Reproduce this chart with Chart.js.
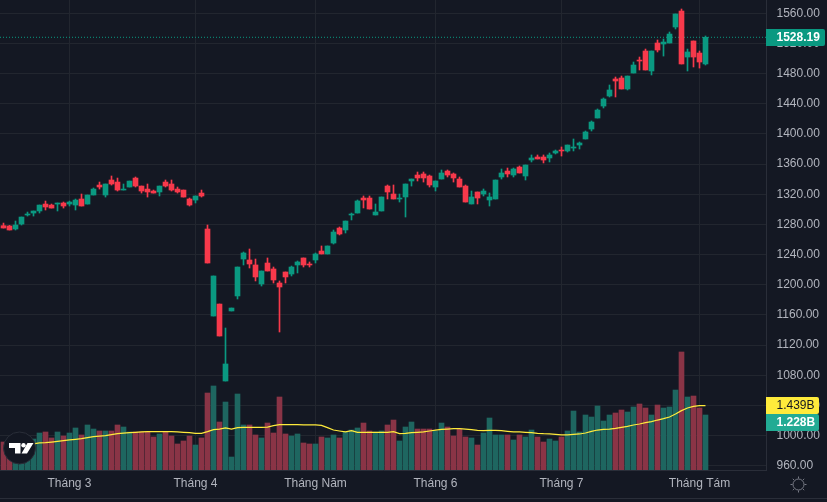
<!DOCTYPE html>
<html><head><meta charset="utf-8">
<style>
html,body{margin:0;padding:0;background:#141823;width:827px;height:502px;overflow:hidden}
#wrap{position:relative;width:827px;height:502px}
canvas{display:block}
#rule{position:absolute;left:0;top:498px;width:827px;height:1px;background:#2a2e39}
svg{position:absolute;left:0;top:0}
</style>
<script src="https://cdn.jsdelivr.net/npm/chart.js@4"></script>
</head><body>
<div id="wrap"><canvas id="c" width="827" height="502"></canvas><div id="rule"></div>
<svg width="827" height="502" viewBox="0 0 827 502">
<circle cx="19.5" cy="448" r="16" fill="#131722" stroke="#2a2e39" stroke-width="1"/>
<path d="M9 443H20.5V453.5H15V448H9Z M27.5 443H33.5L27 453.5H21.5Z" fill="#fff"/>
<circle cx="23.5" cy="445.3" r="2.2" fill="#fff"/>
<g fill="none" stroke="#787b86" stroke-width="1">
<circle cx="798.5" cy="484.5" r="5.5"/>
<path d="M798.5 476.5v2M798.5 490.5v2M790.5 484.5h2M804.5 484.5h2M792.8 478.8l1.4 1.4M802.8 488.8l1.4 1.4M792.8 490.2l1.4-1.4M802.8 480.2l1.4-1.4"/>
</g>
</svg></div>
<script>
const opens=[1278.3,1277.9,1273.9,1280.5,1292.5,1295.1,1297.8,1307.0,1305.7,1307.0,1308.4,1307.0,1305.7,1313.7,1307.0,1319.0,1332.2,1319.0,1338.9,1336.2,1325.6,1329.6,1341.5,1330.9,1326.9,1324.3,1323.0,1336.2,1333.6,1326.9,1325.6,1313.7,1312.3,1321.6,1273.9,1158.5,1174.4,1072.3,1165.2,1185.1,1234.1,1232.8,1226.2,1201.0,1228.8,1220.9,1202.3,1216.9,1214.2,1226.2,1235.5,1227.5,1232.8,1244.7,1240.8,1255.3,1275.2,1272.6,1292.5,1295.1,1315.0,1315.0,1292.5,1297.8,1330.9,1320.3,1313.7,1316.4,1337.6,1345.5,1346.9,1344.2,1329.6,1340.2,1350.8,1346.9,1340.2,1330.9,1307.1,1323.0,1320.3,1312.4,1313.7,1342.9,1350.8,1345.5,1356.1,1344.2,1365.4,1369.4,1369.4,1368.1,1374.7,1378.7,1377.4,1381.3,1385.3,1393.3,1406.5,1421.1,1437.0,1450.3,1472.9,1474.2,1459.6,1480.8,1498.0,1510.0,1483.5,1520.6,1519.3,1520.6,1541.8,1563.0,1502.0,1523.3,1507.3,1492.8];
const highs=[1281.8,1278.7,1284.5,1289.8,1296.4,1297.8,1305.7,1311.0,1307.0,1308.4,1309.7,1311.0,1313.7,1320.3,1319.0,1328.3,1336.2,1333.6,1344.2,1341.5,1333.6,1337.5,1342.9,1330.9,1333.6,1325.6,1330.9,1338.9,1338.9,1329.6,1325.6,1315.0,1317.7,1325.6,1279.2,1211.6,1174.4,1142.6,1169.1,1223.5,1243.4,1247.4,1234.1,1218.2,1235.5,1223.5,1205.0,1216.9,1224.8,1231.5,1235.5,1230.2,1242.1,1251.4,1251.4,1272.6,1276.6,1284.5,1295.1,1312.4,1317.7,1317.7,1307.1,1316.4,1332.3,1332.3,1320.3,1333.6,1340.2,1349.5,1349.5,1345.5,1337.6,1352.2,1352.2,1348.2,1342.9,1332.3,1324.3,1323.0,1327.0,1321.7,1338.9,1353.5,1354.8,1354.8,1357.5,1358.8,1372.1,1372.1,1372.1,1374.7,1378.7,1382.7,1385.3,1393.3,1389.3,1403.9,1417.2,1433.1,1447.7,1464.9,1475.5,1476.8,1476.8,1495.4,1502.0,1512.6,1510.0,1524.6,1525.9,1535.2,1559.1,1565.7,1512.6,1523.3,1510.0,1529.9];
const lows=[1275.2,1272.6,1272.6,1279.2,1291.1,1291.1,1295.1,1299.1,1301.7,1297.8,1301.7,1304.4,1299.1,1304.4,1307.0,1319.0,1326.9,1316.3,1332.2,1324.3,1325.6,1329.6,1329.6,1321.6,1316.3,1321.6,1317.7,1329.6,1324.3,1321.6,1316.3,1304.4,1308.4,1316.3,1228.8,1158.5,1132.0,1072.3,1165.2,1181.1,1226.2,1222.2,1205.0,1198.3,1218.2,1202.3,1137.3,1202.3,1211.6,1215.6,1223.5,1223.5,1228.8,1240.8,1240.8,1254.0,1266.0,1268.6,1285.9,1295.1,1301.8,1300.4,1292.5,1297.8,1313.7,1313.7,1309.7,1289.8,1330.9,1337.6,1336.2,1329.6,1324.3,1340.2,1342.9,1336.2,1329.6,1309.7,1307.1,1307.1,1317.7,1304.4,1313.7,1340.2,1342.9,1342.9,1348.2,1338.9,1362.8,1366.8,1361.5,1362.8,1373.4,1370.7,1376.0,1377.4,1380.0,1393.3,1403.9,1421.1,1434.4,1449.0,1449.0,1459.6,1458.3,1480.8,1484.8,1484.8,1478.2,1508.7,1503.3,1520.6,1539.2,1492.8,1483.5,1488.8,1487.4,1491.4];
const closes=[1275.2,1272.6,1279.2,1289.8,1293.8,1297.8,1305.7,1303.1,1301.7,1308.4,1304.4,1309.7,1312.3,1304.4,1319.0,1326.9,1329.6,1333.6,1333.6,1325.6,1326.9,1337.5,1330.9,1324.3,1323.0,1321.6,1330.9,1330.9,1325.6,1323.0,1316.3,1305.7,1317.7,1317.7,1228.8,1211.6,1132.0,1094.9,1169.1,1223.5,1242.1,1227.5,1210.3,1218.2,1218.2,1206.3,1197.0,1210.3,1223.5,1230.2,1226.2,1226.2,1240.8,1240.8,1251.4,1269.9,1267.3,1284.5,1293.8,1311.1,1312.4,1300.4,1296.5,1316.4,1323.0,1313.7,1315.0,1333.6,1340.2,1341.6,1341.6,1332.3,1337.6,1348.2,1345.5,1341.6,1329.6,1309.7,1316.4,1315.0,1324.3,1316.4,1338.9,1348.2,1346.9,1353.5,1348.2,1358.8,1368.1,1366.8,1365.4,1372.1,1377.4,1377.4,1385.3,1382.7,1388.0,1402.6,1415.8,1431.7,1446.3,1458.3,1470.2,1459.6,1476.8,1491.4,1496.7,1484.8,1510.0,1511.3,1521.9,1532.5,1559.1,1492.8,1508.7,1502.0,1495.4,1528.19];
const volumes=[0.625,0.595,0.685,0.670,0.633,0.692,0.826,0.849,0.715,0.849,0.759,0.826,0.938,0.782,1.005,0.915,0.871,0.871,0.871,1.005,0.960,0.849,0.849,0.849,0.849,0.737,0.804,0.849,0.759,0.581,0.648,0.759,0.558,0.715,1.719,1.876,1.072,1.518,0.290,1.697,1.005,1.005,0.782,0.715,1.049,0.826,1.630,0.804,0.759,0.804,0.603,0.581,0.581,0.737,0.715,0.782,0.715,0.849,0.893,0.938,1.049,0.871,0.849,0.871,1.005,1.116,0.648,0.960,1.072,0.915,0.915,0.915,0.871,1.049,0.960,0.759,0.915,0.737,0.715,0.558,0.826,1.161,0.782,0.782,0.782,0.670,0.782,0.737,0.893,0.737,0.625,0.692,0.648,0.737,0.871,1.317,0.849,1.228,1.183,1.429,1.094,1.228,1.273,1.340,1.295,1.407,1.474,1.384,1.228,1.451,1.384,1.407,1.786,2.635,1.630,1.652,1.384,1.228];
const volumeMA=[0.506,0.514,0.528,0.543,0.558,0.581,0.603,0.610,0.625,0.640,0.655,0.670,0.685,0.700,0.722,0.744,0.759,0.767,0.789,0.811,0.826,0.834,0.841,0.849,0.856,0.856,0.856,0.856,0.856,0.849,0.841,0.834,0.819,0.819,0.856,0.901,0.915,0.938,0.915,0.945,0.953,0.953,0.953,0.953,0.960,0.990,1.012,1.012,1.012,1.012,1.005,1.005,1.005,0.997,0.945,0.893,0.871,0.849,0.878,0.841,0.841,0.841,0.841,0.841,0.841,0.856,0.811,0.819,0.834,0.841,0.849,0.871,0.893,0.908,0.915,0.923,0.923,0.915,0.901,0.886,0.878,0.886,0.886,0.878,0.863,0.849,0.849,0.841,0.834,0.819,0.811,0.808,0.796,0.782,0.782,0.796,0.804,0.826,0.863,0.893,0.908,0.915,0.930,0.953,0.975,1.005,1.027,1.057,1.079,1.116,1.146,1.183,1.250,1.325,1.384,1.422,1.436,1.439];
const monthTicks=[11,32,52,72,93,116];
const monthLabels=["Tháng 3","Tháng 4","Tháng Năm","Tháng 6","Tháng 7","Tháng Tám"];
const priceTicks=[960,1000,1040,1080,1120,1160,1200,1240,1280,1320,1360,1400,1440,1480,1520,1560];
const lastPrice=1528.19, lastVolumeLabel="1.228B", lastMALabel="1.439B";

const UP='#0a9981', DOWN='#f7394b', UPV='#1e6660', DOWNV='#8a3446';
const FONT='"Liberation Sans", Arial, sans-serif';
const idx=opens.map((_,i)=>i);
const isUp=i=>closes[i]>=opens[i];
const XMIN=-3.5/6, XMAX=(766-3.5)/6;

const tagPlugin={id:'tags',afterDraw(ch){
  const c=ch.ctx, y=ch.scales.y, v=ch.scales.yVol, L=ch.chartArea.right;
  function tag(cy,w,bg,fg,txt,bold){
    c.save();c.fillStyle=bg;c.beginPath();c.roundRect(L,Math.round(cy-8.5),w,17,[0,2,2,0]);c.fill();
    c.fillStyle=fg;c.font=(bold?'bold ':'')+'12px '+FONT;c.textBaseline='middle';c.textAlign='left';
    c.fillText(txt,L+10.5,Math.round(cy-8.5)+9);c.restore();
  }
  const my=v.getPixelForValue(volumeMA[volumeMA.length-1]);
  tag(y.getPixelForValue(lastPrice)+0.2,59,UP,'#fff',lastPrice.toFixed(2),true);
  tag(my,53,'#ffeb3b','#131722',lastMALabel,false);
  tag(my+17,53,'#22ab94','#fff',lastVolumeLabel,true);
}};

new Chart(document.getElementById('c'),{
  type:'bar',
  plugins:[tagPlugin],
  data:{datasets:[
    {type:'bar',label:'Candle bodies',order:1,grouped:false,barThickness:5,yAxisID:'y',
     data:idx.map(i=>({x:i,y:[opens[i],closes[i]]})),
     backgroundColor:idx.map(i=>isUp(i)?UP:DOWN),borderWidth:0},
    {type:'bar',label:'Candle wicks',order:2,grouped:false,barThickness:1,yAxisID:'y',
     data:idx.map(i=>({x:i,y:[lows[i],highs[i]]})),
     backgroundColor:idx.map(i=>isUp(i)?UP:DOWN),borderWidth:0},
    {type:'line',label:'Last price',order:3,yAxisID:'y',
     data:[{x:XMIN,y:lastPrice},{x:XMAX,y:lastPrice}],
     borderColor:UP,borderWidth:1,borderDash:[1,2],pointRadius:0,fill:false},
    {type:'line',label:'Volume MA',order:4,yAxisID:'yVol',
     data:idx.map(i=>({x:i,y:volumeMA[i]})),
     borderColor:'#ffeb3b',borderWidth:1.25,pointRadius:0,tension:0,fill:false},
    {type:'bar',label:'Volume',order:5,grouped:false,barThickness:5,yAxisID:'yVol',
     data:idx.map(i=>({x:i,y:volumes[i]})),
     backgroundColor:idx.map(i=>isUp(i)?UPV:DOWNV),borderWidth:0}
  ]},
  options:{
    responsive:false,animation:false,devicePixelRatio:1,
    layout:{padding:0},
    plugins:{legend:{display:false},tooltip:{enabled:false},title:{display:false}},
    scales:{
      x:{type:'linear',offset:false,min:XMIN,max:XMAX,position:'bottom',
        afterBuildTicks(a){a.ticks=monthTicks.map(v=>({value:v}));},
        afterFit(a){a.height=32;a.paddingLeft=a.paddingRight=0;},
        grid:{offset:false,color:'#22262f',drawTicks:false,lineWidth:1},
        border:{color:'#2a2e39'},
        ticks:{autoSkip:false,maxRotation:0,padding:6,color:'#b2b5be',font:{family:FONT,size:12},
          callback:v=>monthLabels[monthTicks.indexOf(v)]}},
      y:{type:'linear',position:'right',min:954.28,max:1577.64,
        afterBuildTicks(a){a.ticks=priceTicks.map(v=>({value:v}));},
        afterFit(a){a.width=61;a.paddingTop=a.paddingBottom=0;},
        grid:{color:'#22262f',drawTicks:false,lineWidth:1},
        border:{color:'#2a2e39'},
        ticks:{padding:10.5,color:'#b2b5be',font:{family:FONT,size:12},callback:v=>v.toFixed(2)}},
      yVol:{type:'linear',display:false,min:0,max:10.495}
    }
  }
});
</script>
</body></html>
